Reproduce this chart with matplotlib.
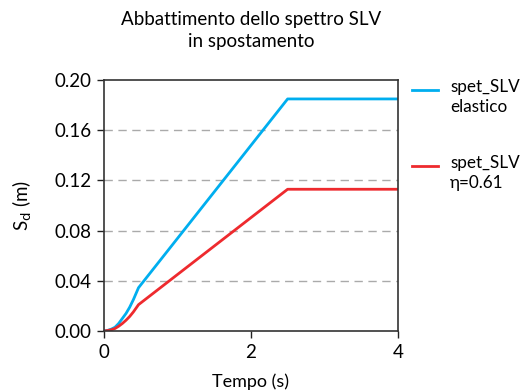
import matplotlib
matplotlib.use("Agg")
import matplotlib.pyplot as plt
from matplotlib.lines import Line2D

# Period (s) and spectral displacement (m)
periods = [0, 0.05, 0.1, 0.15, 0.2, 0.25, 0.3, 0.35, 0.4, 0.47, 2.5, 4.0]
sd_elastic = [0, 0.0005, 0.0015, 0.003, 0.006, 0.010, 0.014, 0.019, 0.025, 0.0345, 0.185, 0.185]
sd_reduced = [0, 0.0004, 0.0010, 0.002, 0.0038, 0.006, 0.0086, 0.0116, 0.0152, 0.021, 0.113, 0.113]

series_labels = ["spet_SLV\nelastico", "spet_SLV\nη=0.61"]
series_colors = ["#00AEEF", "#EE2A2E"]
x_ticks = [0, 2, 4]
y_ticks = [0.00, 0.04, 0.08, 0.12, 0.16, 0.20]

plt.rcParams['font.family'] = ['Lato', 'DejaVu Sans']

W, H = 520, 392
fig = plt.figure(figsize=(W / 100, H / 100), dpi=100)
ax = fig.add_axes([0.2, 0.1556, 0.565, 0.64])

lines = []
for ys, col in zip([sd_elastic, sd_reduced], series_colors):
    ln, = ax.plot(periods, ys, color=col, lw=2.0)
    lines.append(ln)

ax.set_xlim(0, 4)
ax.set_ylim(0, 0.2)
ax.set_xticks(x_ticks)
ax.set_yticks(y_ticks)
ax.set_yticklabels([f"{v:.2f}" for v in y_ticks])
ax.tick_params(labelsize=13.5, direction="out", length=5, width=1, colors="#222222", pad=4)
for t in ax.get_xticklabels() + ax.get_yticklabels():
    t.set_color("black")

for v in y_ticks[1:-1]:
    ax.axhline(v, color="#AAAAAA", lw=1, ls=(0, (6, 4)), zorder=0)

for s in ax.spines.values():
    s.set_color("#333333")
    s.set_linewidth(1.2)

ax.set_xlabel("Tempo (s)", fontsize=13, labelpad=9)
ax.set_ylabel("S$_\\mathrm{d}$ (m)", fontsize=13.5, labelpad=15)
ax.set_title("Abbattimento dello spettro SLV\nin spostamento", fontsize=13.5, pad=24, linespacing=1.35)

# Legend drawn beside the axes: short line key at first text line, two-line label
key_tops = [90, 166]
for ln, label, yk in zip(lines, series_labels, key_tops):
    fy = 1 - yk / H
    fig.add_artist(Line2D([412 / W, 438 / W], [fy, fy], color=ln.get_color(),
                          lw=2.0, transform=fig.transFigure))
    fig.text(450 / W, 1 - (yk - 11) / H, label, fontsize=12.3, va="top", ha="left",
             linespacing=1.3)

fig.savefig("out.png", dpi=100)
